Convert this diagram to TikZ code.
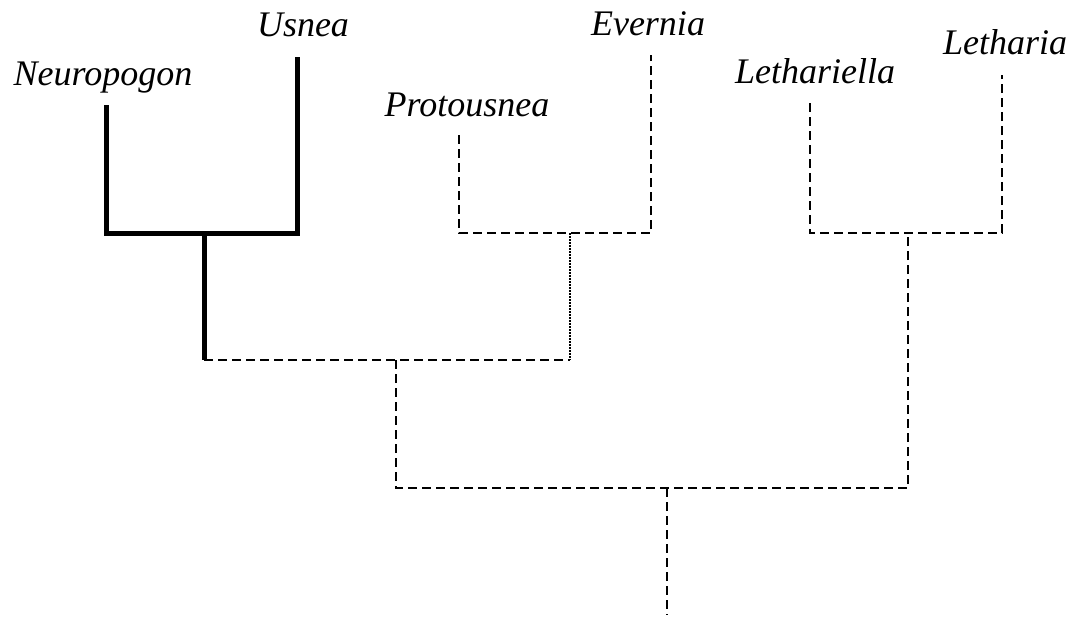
\documentclass[tikz,border=0pt]{standalone}
\usepackage{fontspec}
\setmainfont{Liberation Serif}
\begin{document}
\begin{tikzpicture}[x=1pt,y=-1pt,
  taxon/.style={font=\fontsize{36}{40}\selectfont\itshape, anchor=base, inner sep=0pt},
  solidbr/.style={line width=5pt, line join=miter},
  dashbr/.style={line width=2pt, dash pattern=on 9pt off 5pt},
  dotbr/.style={line width=1.3pt, dash pattern=on 1.5pt off 1.5pt}]
\useasboundingbox (0,0) rectangle (1079,619);
% taxa labels
\node[taxon] (neu) at (103,85) {Neuropogon};
\node[taxon] (usn) at (303,36) {Usnea};
\node[taxon] (pro) at (467,116) {Protousnea};
\node[taxon] (eve) at (648,35) {Evernia};
\node[taxon] (lla) at (815,83) {Lethariella};
\node[taxon] (let) at (1005,54) {Letharia};
% leaf tips
\coordinate (neuT) at (106,105);
\coordinate (usnT) at (297,57);
\coordinate (proT) at (459,135);
\coordinate (eveT) at (651,55);
\coordinate (llaT) at (810,103);
\coordinate (letT) at (1002,75);
% corners and junctions
\coordinate (neuC) at (106,233);
\coordinate (usnC) at (297,233);
\coordinate (proC) at (459,233);
\coordinate (eveC) at (651,233);
\coordinate (llaC) at (810,233);
\coordinate (letC) at (1002,233);
\coordinate (nuJ) at (204,233);
\coordinate (nuB) at (204,360);
\coordinate (peJ) at (570,233);
\coordinate (peB) at (570,360);
\coordinate (ueJ) at (396,360);
\coordinate (ueB) at (396,488);
\coordinate (llJ) at (908,233);
\coordinate (llB) at (908,488);
\coordinate (rootJ) at (667,488);
\coordinate (root) at (667,615);
% solid (Usnea s.l.) branches
\draw[solidbr] (neuT) -- (neuC) -- (usnC) -- (usnT);
\draw[solidbr] (nuJ) -- (nuB);
% dashed branches
\draw[dashbr] (proT) -- (proC) -- (eveC) -- (eveT);
\draw[dashbr] (llaT) -- (llaC) -- (letC) -- (letT);
\draw[dashbr] (nuB) -- (peB);
\draw[dotbr] (peJ) -- (peB);
\draw[dashbr] (ueJ) -- (ueB) -- (llB) -- (llJ);
\draw[dashbr] (rootJ) -- (root);
\end{tikzpicture}
\end{document}
